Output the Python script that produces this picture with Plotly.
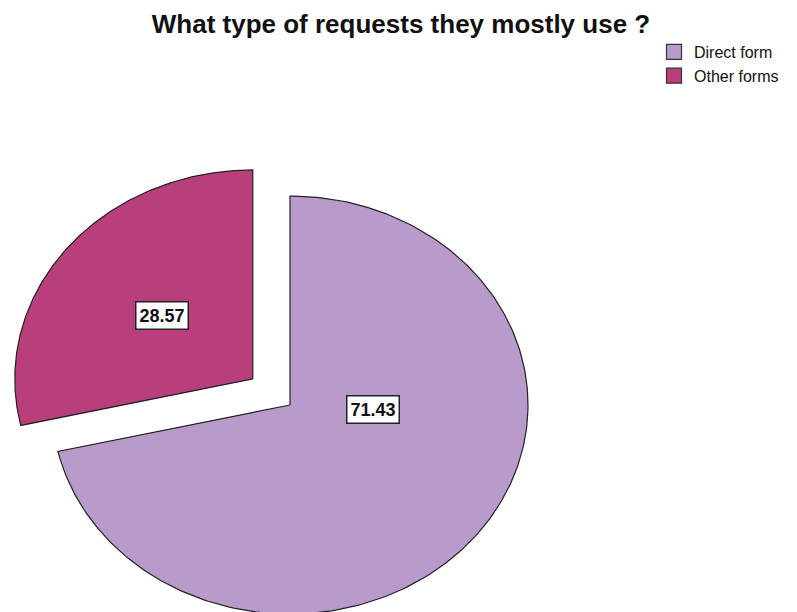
import numpy as np
import plotly.graph_objects as go

# ---- data ----
labels = ["Direct form", "Other forms"]
values = [71.43, 28.57]
colors = ["#b89bca", "#b93e7c"]
pulls = [0.0, 0.2]

# ---- layout geometry (screen pixel space; page body has an 8px margin) ----
W, H = 797, 612
OFF = 8
CX, CY = 290, 405
RX, RY = 238, 209

fig = go.Figure()
total = sum(values)
cum = 0.0
for i, (lab, v, col, p) in enumerate(zip(labels, values, colors, pulls)):
    f0 = cum / total
    f1 = (cum + v) / total
    cum += v
    tm = 2 * np.pi * (f0 + f1) / 2
    ox = p * RX * np.sin(tm)
    oy = -p * RY * np.cos(tm)
    cx, cy = CX + ox, CY + oy
    t = np.linspace(2 * np.pi * f0, 2 * np.pi * f1, 240)
    xs = np.concatenate([[cx], cx + RX * np.sin(t), [cx]])
    ys = np.concatenate([[cy], cy - RY * np.cos(t), [cy]])
    fig.add_trace(go.Scatter(
        x=xs, y=ys, mode="lines", fill="toself", fillcolor=col,
        line=dict(color="#222222", width=1.2), showlegend=False,
        hoverinfo="skip", legendgroup=lab,
    ))
    if i == 0:
        lx = cx + 0.35 * RX
        ly = cy + 0.02 * RY
    else:
        lx = cx + 0.49 * RX * np.sin(tm)
        ly = cy - 0.49 * RY * np.cos(tm)
    fig.add_annotation(
        x=lx, y=ly, xref="x", yref="y", text=f"<b>{v:.2f}</b>", showarrow=False,
        font=dict(family="Liberation Sans, Arial", size=18, color="#111111"),
        bgcolor="white", bordercolor="#222222", borderwidth=1.5, borderpad=3,
    )

for lab, col in zip(labels, colors):
    fig.add_trace(go.Scatter(
        x=[None], y=[None], mode="markers", name=lab, legendgroup=lab,
        marker=dict(symbol="square", size=15, color=col,
                    line=dict(color="#333333", width=1.2)),
    ))

fig.update_layout(
    width=W, height=H,
    margin=dict(l=0, r=0, t=0, b=0),
    paper_bgcolor="white", plot_bgcolor="white",
    xaxis=dict(range=[OFF, W + OFF], visible=False, fixedrange=True),
    yaxis=dict(range=[H + OFF, OFF], visible=False, fixedrange=True),
    title=dict(text="<b>What type of requests they mostly use ?</b>",
               x=(401 - OFF) / W, xanchor="center",
               y=1 - (24 - OFF) / H, yanchor="middle",
               font=dict(family="Liberation Sans, Arial", size=26, color="#111111")),
    legend=dict(x=(654 - OFF) / W, xanchor="left", y=1 - (35 - OFF) / H, yanchor="top",
                font=dict(family="Liberation Sans, Arial", size=16, color="#111111"),
                bgcolor="rgba(0,0,0,0)", tracegroupgap=0, itemwidth=30),
    showlegend=True,
)

fig.write_html("out.html")
